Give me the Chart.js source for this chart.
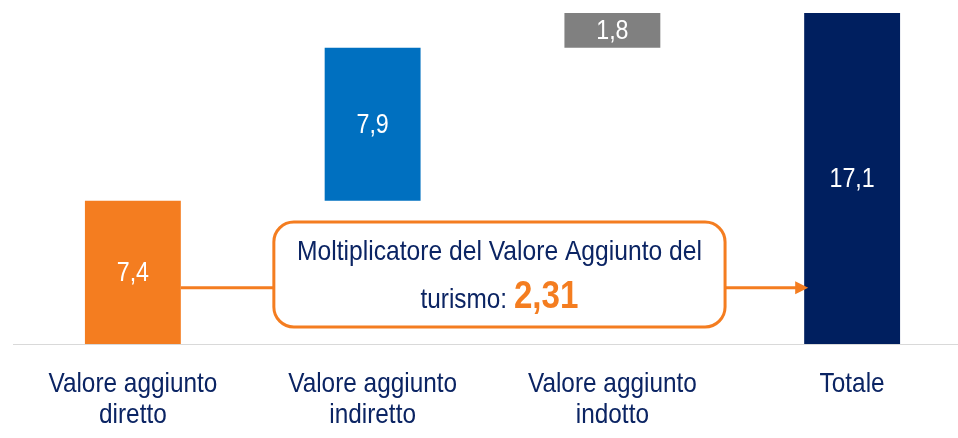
<!DOCTYPE html>
<html><head><meta charset="utf-8">
<script src="https://cdn.jsdelivr.net/npm/chart.js@4/dist/chart.umd.min.js"></script>
<style>
html,body{margin:0;padding:0;background:#fff;overflow:hidden;width:958px;height:438px}
#wrap{position:relative;width:972px;height:438px}
</style></head>
<body><div id="wrap"><canvas id="c"></canvas></div>
<script>
// ---- data ----
const categories = [["Valore aggiunto","diretto"],["Valore aggiunto","indiretto"],["Valore aggiunto","indotto"],["Totale"]];
const values = [7.4, 7.9, 1.8, 17.1];
const isTotal = [false, false, false, true];
const barColors = ['#F47D20', '#0070C0', '#808080', '#001F5F'];
const multiplierLine1 = "Moltiplicatore del Valore Aggiunto del";
const multiplierPrefix = "turismo: ";
const multiplierValue = "2,31";

const FONT = "'Liberation Sans Narrow','Arial Narrow','Liberation Sans',Arial,sans-serif";
const NAVY_TEXT = '#0B2463';
const ORANGE = '#F47D20';
const SQUEEZE = 0.87;

// floating ranges for waterfall
let running = 0;
const ranges = values.map((v, i) => {
  if (isTotal[i]) return [0, v];
  const r = [running, running + v];
  running += v;
  return r;
});
const fmt = v => v.toFixed(1).replace('.', ',');

function drawSqueezed(ctx, text, x, y, sx, align) {
  ctx.save();
  ctx.translate(x, y);
  ctx.scale(sx, 1);
  ctx.textAlign = align;
  ctx.fillText(text, 0, 0);
  ctx.restore();
}

const labelPlugin = {
  id: 'barLabels',
  afterDatasetsDraw(chart) {
    const ctx = chart.ctx;
    const meta = chart.getDatasetMeta(0);
    ctx.save();
    ctx.fillStyle = '#fff';
    ctx.font = "28px " + FONT;
    ctx.textBaseline = 'middle';
    meta.data.forEach((bar, i) => {
      const y = (bar.y + bar.base) / 2;
      drawSqueezed(ctx, fmt(values[i]), bar.x, y + 1, 0.83, 'center');
    });
    ctx.restore();
  }
};

const categoryPlugin = {
  id: 'catLabels',
  afterDraw(chart) {
    const ctx = chart.ctx;
    const xS = chart.scales.x;
    const base = chart.chartArea.bottom;
    ctx.save();
    ctx.fillStyle = NAVY_TEXT;
    ctx.font = "28px " + FONT;
    ctx.textBaseline = 'alphabetic';
    categories.forEach((lines, i) => {
      const x = xS.getPixelForTick(i);
      lines.forEach((t, j) => drawSqueezed(ctx, t, x, base + 48 + j * 31, SQUEEZE, 'center'));
    });
    ctx.restore();
  }
};

const calloutPlugin = {
  id: 'callout',
  afterDatasetsDraw(chart) {
    const ctx = chart.ctx;
    const xS = chart.scales.x, yS = chart.scales.y;
    const meta = chart.getDatasetMeta(0);
    const b0 = meta.data[0], b3 = meta.data[3];
    const L = xS.getPixelForValue(0.588), R = xS.getPixelForValue(2.47);
    const T = yS.getPixelForValue(6.3), B = yS.getPixelForValue(0.88);
    const yc = yS.getPixelForValue(2.9);
    const rad = 20;
    ctx.save();
    ctx.strokeStyle = ORANGE;
    ctx.fillStyle = ORANGE;
    ctx.lineWidth = 3;
    // connectors
    ctx.beginPath();
    ctx.moveTo(b0.x + b0.width / 2, yc);
    ctx.lineTo(L, yc);
    ctx.stroke();
    const tipX = b3.x - b3.width / 2 + 4;
    ctx.beginPath();
    ctx.moveTo(R, yc);
    ctx.lineTo(tipX - 10, yc);
    ctx.stroke();
    ctx.beginPath();
    ctx.moveTo(tipX, yc);
    ctx.lineTo(tipX - 13, yc - 6.5);
    ctx.lineTo(tipX - 13, yc + 6.5);
    ctx.closePath();
    ctx.fill();
    // box
    ctx.beginPath();
    ctx.moveTo(L + rad, T);
    ctx.arcTo(R, T, R, B, rad);
    ctx.arcTo(R, B, L, B, rad);
    ctx.arcTo(L, B, L, T, rad);
    ctx.arcTo(L, T, R, T, rad);
    ctx.closePath();
    ctx.fillStyle = '#fff';
    ctx.fill();
    ctx.stroke();
    // text
    const cx = (L + R) / 2;
    ctx.textBaseline = 'alphabetic';
    ctx.fillStyle = NAVY_TEXT;
    ctx.font = "28px " + FONT;
    const line1 = multiplierLine1.split(' ').join('  ');
    ctx.save(); ctx.font = "28px " + FONT;
    drawSqueezed(ctx, multiplierLine1, cx, T + 38, 0.88, 'center');
    ctx.restore();
    const f1 = "28px " + FONT, f2 = "bold 39px " + FONT;
    const s2 = 0.85;
    ctx.font = f1; const w1 = ctx.measureText(multiplierPrefix).width * SQUEEZE;
    ctx.font = f2; const w2 = ctx.measureText(multiplierValue).width * s2;
    const sx = cx - (w1 + w2) / 2;
    ctx.font = f1; ctx.fillStyle = NAVY_TEXT;
    drawSqueezed(ctx, multiplierPrefix, sx, T + 86, SQUEEZE, 'left');
    ctx.font = f2; ctx.fillStyle = ORANGE;
    drawSqueezed(ctx, multiplierValue, sx + w1, T + 86, s2, 'left');
    ctx.restore();
  }
};

new Chart(document.getElementById('c'), {
  type: 'bar',
  data: {
    labels: categories,
    datasets: [{
      data: ranges,
      backgroundColor: barColors,
      borderWidth: 0,
      barPercentage: 0.4,
      categoryPercentage: 1.0
    }]
  },
  options: {
    responsive: true,
    maintainAspectRatio: false,
    animation: false,
    events: [],
    layout: { padding: { left: 13, top: 13, right: 0, bottom: 0 } },
    plugins: { legend: { display: false }, tooltip: { enabled: false } },
    scales: {
      x: {
        grid: { display: false, drawTicks: false },
        border: { display: true, color: '#D9D9D9', width: 1 },
        ticks: { display: false },
        afterFit(scale) { scale.height = 94; }
      },
      y: {
        display: false,
        min: 0,
        max: 17.1
      }
    }
  },
  plugins: [labelPlugin, calloutPlugin, categoryPlugin]
});
</script>
</body></html>
